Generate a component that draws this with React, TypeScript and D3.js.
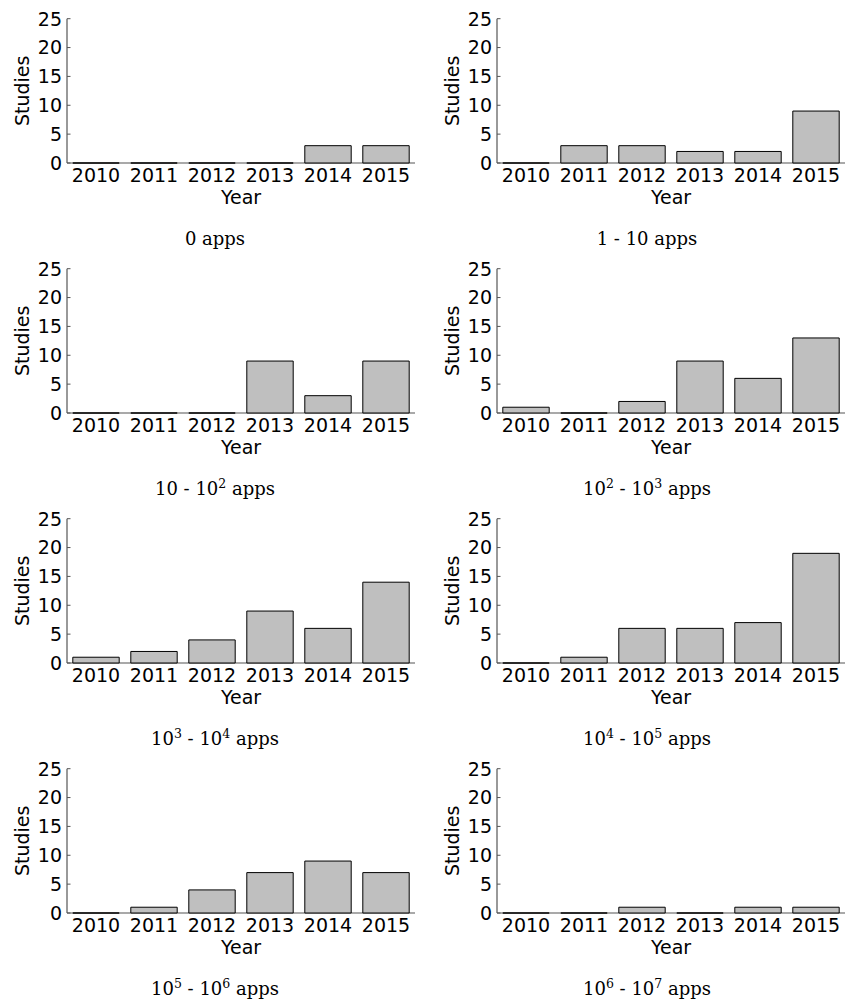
import React from "react";
import * as d3 from "d3";

const years = ["2010", "2011", "2012", "2013", "2014", "2015"];
const yTicks = [0, 5, 10, 15, 20, 25];

const apps0 = [0, 0, 0, 0, 3, 3];
const apps1to10 = [0, 3, 3, 2, 2, 9];
const apps10to1e2 = [0, 0, 0, 9, 3, 9];
const apps1e2to1e3 = [1, 0, 2, 9, 6, 13];
const apps1e3to1e4 = [1, 2, 4, 9, 6, 14];
const apps1e4to1e5 = [0, 1, 6, 6, 7, 19];
const apps1e5to1e6 = [0, 1, 4, 7, 9, 7];
const apps1e6to1e7 = [0, 0, 1, 0, 1, 1];

// caption parts: [base, exponent | null]
type Part = [string, string | null];
const captions: Part[][] = [
  [["0 apps", null]],
  [["1 - 10 apps", null]],
  [["10 - 10", "2"], [" apps", null]],
  [["10", "2"], [" - 10", "3"], [" apps", null]],
  [["10", "3"], [" - 10", "4"], [" apps", null]],
  [["10", "4"], [" - 10", "5"], [" apps", null]],
  [["10", "5"], [" - 10", "6"], [" apps", null]],
  [["10", "6"], [" - 10", "7"], [" apps", null]],
];
const seriesList = [
  apps0, apps1to10, apps10to1e2, apps1e2to1e3,
  apps1e3to1e4, apps1e4to1e5, apps1e5to1e6, apps1e6to1e7,
];

const SANS = "'DejaVu Sans', sans-serif";
const SERIF = "'DejaVu Serif', serif";
const FS = 19;

function Panel({ values, caption, col, row }: { values: number[]; caption: Part[]; col: number; row: number }) {
  const x0 = col === 0 ? 67 : 497;
  const x1 = x0 + 348;
  const yTop = 18.7 + row * 250;
  const yBase = 163 + row * 250;
  const capX = col === 0 ? 215 : 647;

  const x = d3.scaleBand<string>().domain(years).range([x0, x1]).paddingInner(0.2).paddingOuter(0.1);
  const y = d3.scaleLinear().domain([0, 25]).range([yBase, yTop]);
  const axisColor = "#555";

  const capSpans: React.ReactNode[] = [];
  let pendingDy = 0;
  caption.forEach(([base, exp], i) => {
    capSpans.push(
      <tspan key={`b${i}`} dy={pendingDy || undefined}>
        {base}
      </tspan>
    );
    pendingDy = 0;
    if (exp !== null) {
      capSpans.push(
        <tspan key={`e${i}`} fontSize={12.5} dy={-7}>
          {exp}
        </tspan>
      );
      pendingDy = 7;
    }
  });

  return (
    <g>
      <line x1={x0} x2={x0} y1={yTop} y2={yBase} stroke={axisColor} strokeWidth={1.2} />
      <line x1={x0} x2={x1} y1={yBase} y2={yBase} stroke={axisColor} strokeWidth={1.2} />
      {yTicks.map((t) => (
        <g key={t}>
          <line x1={x0} x2={x0 + 3.5} y1={y(t)} y2={y(t)} stroke={axisColor} strokeWidth={1} />
          <text x={x0 - 5} y={y(t)} dy="0.36em" textAnchor="end" fontFamily={SANS} fontSize={FS} fill="#000">
            {t}
          </text>
        </g>
      ))}
      {values.map((v, i) => {
        const bx = x(years[i])!;
        const bw = x.bandwidth();
        const p = d3.path();
        p.moveTo(bx, y(0));
        p.lineTo(bx, y(v));
        p.lineTo(bx + bw, y(v));
        p.lineTo(bx + bw, y(0));
        p.closePath();
        return <path key={i} d={p.toString()} fill="#bfbfbf" stroke="#000" strokeWidth={1} />;
      })}
      {years.map((yr) => (
        <text key={yr} x={x(yr)! + x.bandwidth() / 2} y={yBase + 12} dy="0.36em" textAnchor="middle" fontFamily={SANS} fontSize={FS} fill="#000">
          {yr}
        </text>
      ))}
      <text x={(x0 + x1) / 2} y={yBase + 41} textAnchor="middle" fontFamily={SANS} fontSize={FS} fill="#000">
        Year
      </text>
      <text
        transform={`translate(${x0 - 45},${(yTop + yBase) / 2}) rotate(-90)`}
        dy="0.36em"
        textAnchor="middle"
        fontFamily={SANS}
        fontSize={FS}
        fill="#000"
      >
        Studies
      </text>
      <text x={capX} y={yBase + 82} textAnchor="middle" fontFamily={SERIF} fontSize={18} fill="#000">
        {capSpans}
      </text>
    </g>
  );
}

export default function App() {
  return (
    <svg
      width={845}
      height={1001}
      style={{ position: "absolute", left: 0, top: 0, background: "#fff" }}
    >
      <rect width={845} height={1001} fill="#fff" />
      {seriesList.map((vals, i) => (
        <Panel key={i} values={vals} caption={captions[i]} col={i % 2} row={Math.floor(i / 2)} />
      ))}
    </svg>
  );
}
